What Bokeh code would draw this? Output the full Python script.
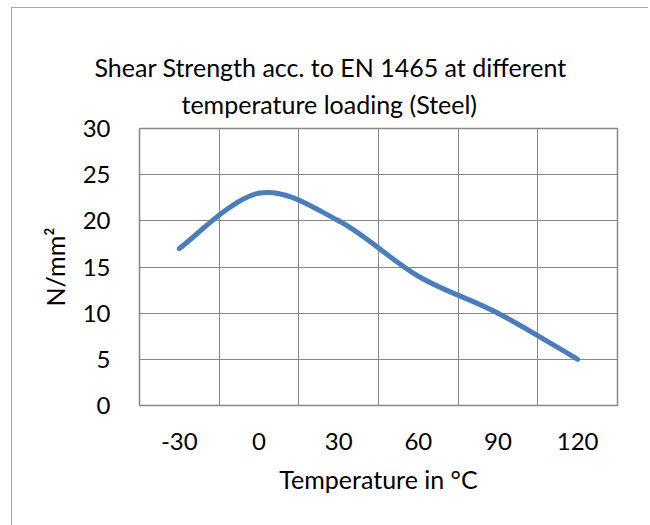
from bokeh.plotting import figure
from bokeh.models import Range1d, FixedTicker, Title
from bokeh.embed import file_html
from bokeh.resources import INLINE

# ---- data ----
temperatures = ["-30", "0", "30", "60", "90", "120"]
shear_strength = [17, 23, 20, 14, 10, 5]
y_ticks = [0, 5, 10, 15, 20, 25, 30]

title_lines = ["Shear Strength acc. to EN 1465 at different",
               "temperature loading (Steel)"]
x_label = "Temperature in \u00b0C"
y_label = "N/mm\u00b2"

FONT = "Lato"
FS_TICK = "24px"
FS_TEXT = "25px"
GRID = "#868686"
LINE = "#4a7ebb"

W, H = 637, 518
ML, MR, MT, MB = 128, 31, 121, 120

n = len(temperatures)
xs = [i + 0.5 for i in range(n)]
ys = shear_strength

# smooth curve (Excel-like cubic Bezier segments through the data points)
x0, y0, x1, y1, cx0, cy0, cx1, cy1 = [], [], [], [], [], [], [], []
for i in range(n - 1):
    pm = max(i - 1, 0)
    pp = min(i + 2, n - 1)
    x0.append(xs[i]); y0.append(ys[i])
    x1.append(xs[i + 1]); y1.append(ys[i + 1])
    cx0.append(xs[i] + (xs[i + 1] - xs[pm]) / 6.0)
    cy0.append(ys[i] + (ys[i + 1] - ys[pm]) / 6.0)
    cx1.append(xs[i + 1] - (xs[pp] - xs[i]) / 6.0)
    cy1.append(ys[i + 1] - (ys[pp] - ys[i]) / 6.0)

p = figure(width=W, height=H, output_backend="svg", toolbar_location=None,
           x_range=Range1d(0, n), y_range=Range1d(y_ticks[0], y_ticks[-1]),
           min_border_left=ML, min_border_right=MR, min_border_top=MT,
           min_border_bottom=MB)
p.margin = (7, 0, 0, 11)
p.styles = {"outline": "3px solid #8e8e8e", "outline-offset": "-3px"}

p.bezier(x0=x0, y0=y0, x1=x1, y1=y1, cx0=cx0, cy0=cy0, cx1=cx1, cy1=cy1,
         line_color=LINE, line_width=5, line_cap="round")

# chart title: two lines, each centred on the chart box
title_offsets = [-45, 42]
title_standoffs = [-9, 19]
for k in (1, 0):
    p.add_layout(Title(text=title_lines[k], align="left", offset=title_offsets[k],
                       standoff=title_standoffs[k], text_font=FONT,
                       text_font_size=FS_TEXT, text_font_style="normal",
                       text_color="#000000"), "above")

# grids at category boundaries
p.xgrid.ticker = FixedTicker(ticks=list(range(n + 1)))
p.ygrid.ticker = FixedTicker(ticks=y_ticks)
for g in (p.xgrid, p.ygrid):
    g.grid_line_color = GRID
    g.grid_line_width = 1

p.outline_line_color = GRID
p.outline_line_width = 1.5

p.xaxis.ticker = FixedTicker(ticks=xs)
p.xaxis.major_label_overrides = {x: t for x, t in zip(xs, temperatures)}
p.yaxis.ticker = FixedTicker(ticks=y_ticks)

for ax in (p.xaxis, p.yaxis):
    ax.axis_line_color = None
    ax.major_tick_line_color = None
    ax.minor_tick_line_color = None
    ax.major_label_text_font = FONT
    ax.major_label_text_font_size = FS_TICK
    ax.major_label_text_color = "#000000"
    ax.axis_label_text_font = FONT
    ax.axis_label_text_font_size = FS_TEXT
    ax.axis_label_text_font_style = "normal"
    ax.axis_label_text_color = "#000000"

p.xaxis.axis_label = x_label
p.yaxis.axis_label = y_label
p.xaxis.major_label_standoff = 21
p.yaxis.major_label_standoff = 23
p.xaxis.axis_label_standoff = 11
p.yaxis.axis_label_standoff = 10

open("out.html", "w").write(file_html(p, INLINE))
